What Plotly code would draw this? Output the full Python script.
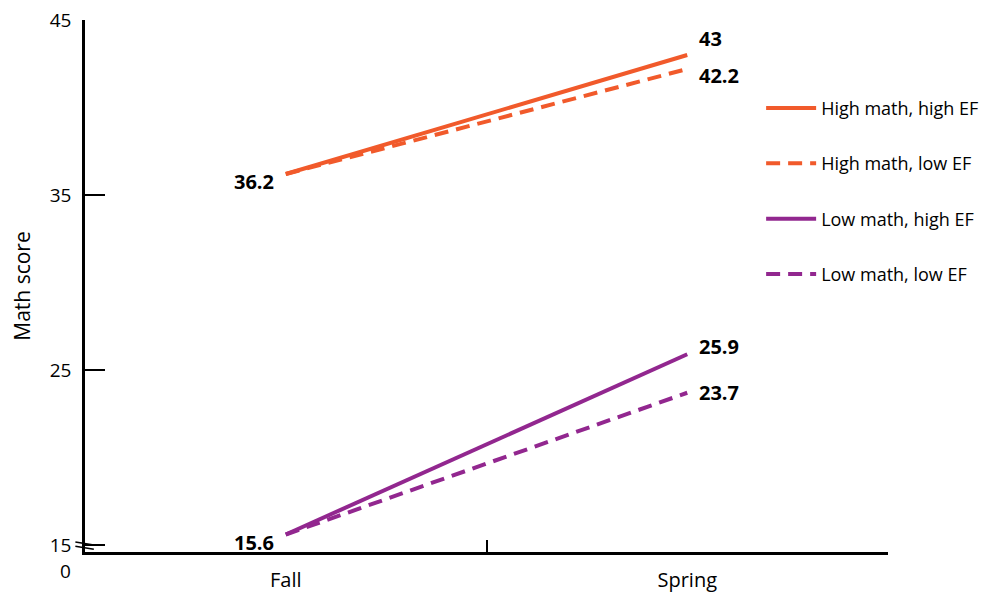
import plotly.graph_objects as go

# ---- data ----
seasons = ["Fall", "Spring"]
series_names = ["High math, high EF", "High math, low EF",
                "Low math, high EF", "Low math, low EF"]
high_high = [36.2, 43.0]
high_low = [36.2, 42.2]
low_high = [15.6, 25.9]
low_low = [15.6, 23.7]
y_ticks = [15, 25, 35, 45]

# ---- styles ----
ORANGE = "#F15A2B"
PURPLE = "#92278F"
FONT = "Open Sans"
styles = [
    dict(color=ORANGE, dash="solid"),
    dict(color=ORANGE, dash="14px,8px"),
    dict(color=PURPLE, dash="solid"),
    dict(color=PURPLE, dash="14px,8px"),
]
# label offsets (px) for end-point value labels: (fall_yshift, spring_yshift)
label_shift = [(-7, 17), (None, -6), (-8, 8), (None, 0)]

values = [high_high, high_low, low_high, low_low]

fig = go.Figure()
for i, (name, vals, st) in enumerate(zip(series_names, values, styles)):
    fig.add_trace(go.Scatter(
        x=seasons, y=vals, mode="lines", name=name,
        legendgroup=f"g{i}",
        line=dict(color=st["color"], width=4, dash=st["dash"]),
    ))

annotations = []
for i, vals in enumerate(values):
    fs, ss = label_shift[i]
    if fs is not None:
        annotations.append(dict(
            x=seasons[0], y=vals[0], xref="x", yref="y", text=f"<b>{vals[0]:g}</b>",
            showarrow=False, xanchor="right", yanchor="middle", xshift=-10, yshift=fs,
            font=dict(family=FONT, size=20, color="black")))
    annotations.append(dict(
        x=seasons[1], y=vals[1], xref="x", yref="y", text=f"<b>{vals[1]:g}</b>",
        showarrow=False, xanchor="left", yanchor="middle", xshift=10, yshift=ss,
        font=dict(family=FONT, size=20, color="black")))

# "0" label at the broken axis base
annotations.append(dict(
    x=0, y=0, xref="paper", yref="paper", text="0", showarrow=False,
    xanchor="right", yanchor="middle", xshift=-12, yshift=-19,
    font=dict(family=FONT, size=19, color="black")))

# axis break marks
shapes = [
    dict(type="path", xref="x domain", yref="y domain",
         path="M -0.012 0.019 L 0.011 0.013", line=dict(color="black", width=1.5)),
    dict(type="path", xref="x domain", yref="y domain",
         path="M -0.012 0.011 L 0.011 0.005", line=dict(color="black", width=1.5)),
]

# page body has an 8px default margin, so the figure is sized/offset to compensate
fig.update_layout(
    width=992, height=585,
    margin=dict(l=77, r=112, t=12, b=41),
    plot_bgcolor="white", paper_bgcolor="white",
    font=dict(family=FONT, size=20, color="black"),
    showlegend=True,
    legend=dict(x=0.842, y=0.869, xanchor="left", yanchor="top",
                tracegroupgap=29, itemwidth=50,
                font=dict(family=FONT, size=18),
                bgcolor="rgba(0,0,0,0)"),
    annotations=annotations,
    shapes=shapes,
    xaxis=dict(
        type="category", range=[-0.5, 1.5], automargin=False,
        showline=True, linecolor="black", linewidth=2.5,
        ticks="inside", ticklen=12, tickwidth=2, tickcolor="black",
        tickson="boundaries", showgrid=False, zeroline=False,
        tickfont=dict(family=FONT, size=20), ticklabelstandoff=8,
    ),
    yaxis=dict(
        range=[14.6, 45], tickvals=y_ticks, automargin=False,
        showline=True, linecolor="black", linewidth=2.5,
        ticks="inside", ticklen=20, tickwidth=2, tickcolor="black",
        showgrid=False, zeroline=False, ticklabeloverflow="allow",
        tickfont=dict(family=FONT, size=19), ticklabelstandoff=7,
        title=dict(text="Math score", font=dict(family=FONT, size=21), standoff=17),
    ),
)

fig.write_html("out.html")
